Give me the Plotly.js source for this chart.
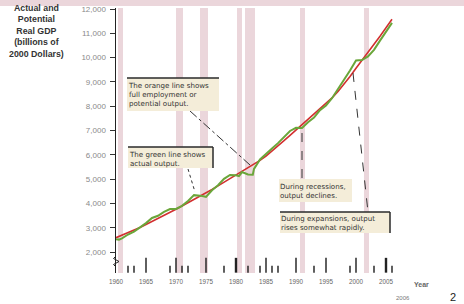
<!DOCTYPE html>
<html>
<head>
<meta charset="utf-8">
<script src="https://cdn.plot.ly/plotly-3.0.1.min.js"></script>
<style>html,body{margin:0;padding:0;background:#fff;}#chart{width:464px;height:304px;}</style>
</head>
<body>
<div id="chart"></div>
<script>
// ---- data ----
const actualYears = [1960,1960.5,1961,1962,1963,1964,1965,1966,1967,1968,1969,1970,1971,1972,1973,1974,1975,1976,1977,1978,1979,1980,1980.5,1981,1982,1982.8,1983,1984,1985,1986,1987,1988,1989,1990,1991,1992,1993,1994,1995,1996,1997,1998,1999,2000,2001,2002,2003,2004,2005,2006];
const actualGDP   = [2530,2510,2560,2720,2840,3000,3190,3400,3490,3650,3770,3770,3900,4100,4340,4320,4270,4540,4750,5010,5170,5160,5120,5290,5190,5180,5420,5810,6050,6260,6480,6740,6980,7110,7100,7340,7530,7840,8030,8330,8700,9070,9470,9880,9900,10050,10320,10700,11040,11430];
const potentialYears = [1960,1961,1962,1963,1964,1965,1966,1967,1968,1969,1970,1971,1972,1973,1974,1975,1976,1977,1978,1979,1980,1981,1982,1983,1984,1985,1986,1987,1988,1989,1990,1991,1992,1993,1994,1995,1996,1997,1998,1999,2000,2001,2002,2003,2004,2005,2006];
const potentialGDP   = [2590,2690,2790,2900,3010,3130,3250,3380,3510,3640,3760,3890,4020,4150,4290,4430,4570,4720,4870,5020,5170,5320,5460,5610,5770,5950,6150,6360,6580,6800,7020,7240,7450,7660,7870,8090,8340,8610,8900,9220,9560,9880,10200,10540,10880,11230,11580];
const recessionStart = [1960.33,1970.0,1974.0,1980.17,1981.5,1990.67,2001.33];
const recessionEnd   = [1961.17,1971.17,1975.33,1981.0,1983.17,1991.5,2002.17];
const xTickYears  = [1960,1965,1970,1975,1980,1985,1990,1995,2000,2005];
const xTickLabels = ["1960","1965","1970","1975","1980","1985","1990","1995","2000","2005"];
const yTickValues = [2000,3000,4000,5000,6000,7000,8000,9000,10000,11000,12000];
const yTickLabels = ["2,000","3,000","4,000","5,000","6,000","7,000","8,000","9,000","10,000","11,000","12,000"];
const majorMarkYears = [1965,1970,1975,1985,1990,1995,2000];
const boldMarkYears  = [1980,2005];
const minorMarkYears = [1962,1963,1969,1971,1972,1978,1982,1984,1986,1987,1993,1999,2003,2006];

// ---- geometry helpers (pixel -> paper) ----
const L = 116, T = 8, W = 300, H = 265;
const px = x => (x - L) / W;
const py = y => (T + H - y) / H;

const markBase = 1150;
function markTrace(xs, len, w) {
  return {type:'bar', x: xs, y: xs.map(() => len), base: xs.map(() => markBase),
    width: w, marker:{color:'#222', line:{width:0}}, hoverinfo:'skip'};
}

const traces = [
  markTrace(majorMarkYears, 610, 0.24),
  markTrace(boldMarkYears, 610, 0.4),
  markTrace(minorMarkYears, 280, 0.24),
  {type:'scatter', mode:'lines', x: potentialYears, y: potentialGDP,
   line:{color:'#d22f2f', width:1.6}, hoverinfo:'skip'},
  {type:'scatter', mode:'lines', x: actualYears, y: actualGDP,
   line:{color:'#6aa63a', width:2}, hoverinfo:'skip'}
];

const pink = '#ebd6db';
const shapes = [];
shapes.push({type:'rect', xref:'paper', yref:'paper', x0:px(0), x1:px(464), y0:py(6), y1:py(0),
  fillcolor:pink, line:{width:0}, layer:'below'});
recessionStart.forEach((s, i) => {
  shapes.push({type:'rect', xref:'x', yref:'paper', x0:s, x1:recessionEnd[i], y0:0, y1:1,
    fillcolor:pink, line:{width:0}, layer:'below'});
});
function seg(x0,y0,x1,y1,dash){
  shapes.push({type:'line', xref:'paper', yref:'paper', x0:px(x0), y0:py(y0), x1:px(x1), y1:py(y1),
    line:{color:'#333', width:1, dash:dash}, layer:'above'});
}
seg(190,111,250,165,'dashdot');
seg(188,169,195,192,'dot');
seg(302,133,302,179,'dash');
seg(353,73,368,212,'dash');
const boxes = [
  {x0:127,x1:219,y0:78,y1:111, top:true, right:false, text:'The orange line shows<br>full employment or<br>potential output.'},
  {x0:128,x1:213,y0:147,y1:168, top:true, right:true, text:'The green line shows<br>actual output.'},
  {x0:279,x1:352,y0:179,y1:202, top:false, right:false, text:'During recessions,<br>output declines.'},
  {x0:280,x1:390,y0:212,y1:233, top:true, right:true, text:'During expansions, output<br>rises somewhat rapidly.'}
];
const annotations = [];
boxes.forEach(b => {
  shapes.push({type:'rect', xref:'paper', yref:'paper', x0:px(b.x0), x1:px(b.x1), y0:py(b.y1), y1:py(b.y0),
    fillcolor:'#f4edd9', line:{width:0}, layer:'above'});
  if (b.top) shapes.push({type:'line', xref:'paper', yref:'paper', x0:px(b.x0), x1:px(b.x1), y0:py(b.y0), y1:py(b.y0),
    line:{color:'#2a2a2a', width:1.5}, layer:'above'});
  if (b.right) shapes.push({type:'line', xref:'paper', yref:'paper', x0:px(b.x1), x1:px(b.x1), y0:py(b.y0), y1:py(b.y1),
    line:{color:'#2a2a2a', width:1.5}, layer:'above'});
  annotations.push({xref:'paper', yref:'paper', x:px(b.x0), y:py(b.y0+1.5), xanchor:'left', yanchor:'top',
    align:'left', showarrow:false, text:b.text, borderpad:0,
    font:{family:'DejaVu Sans', size:7.1, color:'#333'}});
});
shapes.push({type:'path', xref:'paper', yref:'paper', layer:'above',
  path:`M ${px(116)} ${py(256)} L ${px(113.5)} ${py(258.5)} L ${px(119)} ${py(261.5)} L ${px(113.5)} ${py(264.5)} L ${px(116)} ${py(267)}`,
  line:{color:'#222', width:1}});

annotations.push({xref:'paper', yref:'paper', x:px(36), y:py(1), xanchor:'center', yanchor:'top', showarrow:false,
  text:'<b>Actual and<br>Potential<br>Real GDP<br>(billions of<br>2000 Dollars)</b>',
  font:{family:'Liberation Sans', size:8.8, color:'#333'}});
annotations.push({xref:'paper', yref:'paper', x:px(421), y:py(284), xanchor:'center', yanchor:'middle', showarrow:false,
  text:'<b>Year</b>', font:{family:'Liberation Sans', size:7, color:'#666'}});
annotations.push({xref:'paper', yref:'paper', x:px(403), y:py(298), xanchor:'center', yanchor:'middle', showarrow:false,
  text:'2006', font:{family:'Liberation Sans', size:6, color:'#777'}});
annotations.push({xref:'paper', yref:'paper', x:px(453), y:py(297), xanchor:'center', yanchor:'middle', showarrow:false,
  text:'2', font:{family:'Liberation Sans', size:11, color:'#222'}});

const layout = {
  width:464, height:304,
  margin:{l:L, r:464-L-W, t:T, b:304-T-H, pad:0},
  paper_bgcolor:'#fff', plot_bgcolor:'#fff',
  showlegend:false, barmode:'overlay',
  xaxis:{range:[1960, 2010], showgrid:false, zeroline:false, showline:false, ticks:'',
    tickvals:xTickYears, ticktext:xTickLabels, ticklabelstandoff:4,
    tickfont:{family:'Liberation Sans', size:6.3, color:'#666'}, fixedrange:true},
  yaxis:{range:[1136, 12041], showgrid:false, zeroline:false, showline:true, linecolor:'#222', linewidth:1.5,
    ticks:'outside', ticklen:5, tickcolor:'#333', tickwidth:1, tickvals:yTickValues, ticktext:yTickLabels,
    ticklabelstandoff:2, tickfont:{family:'Liberation Sans', size:8, color:'#8a8a8a'}, fixedrange:true},
  shapes:shapes, annotations:annotations
};
Plotly.newPlot('chart', traces, layout, {staticPlot:true, displayModeBar:false});
</script>
</body>
</html>
